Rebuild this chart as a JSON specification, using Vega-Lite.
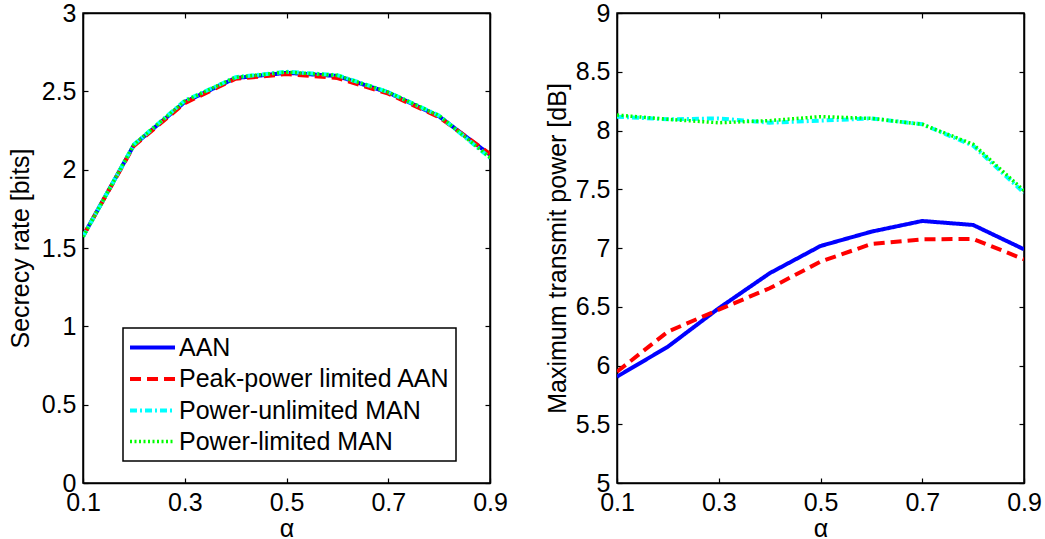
{
  "$schema": "https://vega.github.io/schema/vega-lite/v6.json",
  "background": "white",
  "padding": {"left": 7, "top": 0, "right": 0, "bottom": 0},
  "spacing": 35,
  "datasets": {
    "secrecy": [
      {"series": "AAN", "alpha": 0.1, "value": 1.575},
      {"series": "AAN", "alpha": 0.2, "value": 2.157},
      {"series": "AAN", "alpha": 0.3, "value": 2.432},
      {"series": "AAN", "alpha": 0.4, "value": 2.585},
      {"series": "AAN", "alpha": 0.5, "value": 2.618},
      {"series": "AAN", "alpha": 0.6, "value": 2.598},
      {"series": "AAN", "alpha": 0.7, "value": 2.492},
      {"series": "AAN", "alpha": 0.8, "value": 2.340},
      {"series": "AAN", "alpha": 0.9, "value": 2.095},
      {"series": "Peak-power limited AAN", "alpha": 0.1, "value": 1.575},
      {"series": "Peak-power limited AAN", "alpha": 0.2, "value": 2.152},
      {"series": "Peak-power limited AAN", "alpha": 0.3, "value": 2.425},
      {"series": "Peak-power limited AAN", "alpha": 0.4, "value": 2.580},
      {"series": "Peak-power limited AAN", "alpha": 0.5, "value": 2.610},
      {"series": "Peak-power limited AAN", "alpha": 0.6, "value": 2.585},
      {"series": "Peak-power limited AAN", "alpha": 0.7, "value": 2.485},
      {"series": "Peak-power limited AAN", "alpha": 0.8, "value": 2.335},
      {"series": "Peak-power limited AAN", "alpha": 0.9, "value": 2.100},
      {"series": "Power-unlimited MAN", "alpha": 0.1, "value": 1.572},
      {"series": "Power-unlimited MAN", "alpha": 0.2, "value": 2.160},
      {"series": "Power-unlimited MAN", "alpha": 0.3, "value": 2.440},
      {"series": "Power-unlimited MAN", "alpha": 0.4, "value": 2.590},
      {"series": "Power-unlimited MAN", "alpha": 0.5, "value": 2.625},
      {"series": "Power-unlimited MAN", "alpha": 0.6, "value": 2.603},
      {"series": "Power-unlimited MAN", "alpha": 0.7, "value": 2.495},
      {"series": "Power-unlimited MAN", "alpha": 0.8, "value": 2.345},
      {"series": "Power-unlimited MAN", "alpha": 0.9, "value": 2.075},
      {"series": "Power-limited MAN", "alpha": 0.1, "value": 1.572},
      {"series": "Power-limited MAN", "alpha": 0.2, "value": 2.160},
      {"series": "Power-limited MAN", "alpha": 0.3, "value": 2.438},
      {"series": "Power-limited MAN", "alpha": 0.4, "value": 2.590},
      {"series": "Power-limited MAN", "alpha": 0.5, "value": 2.623},
      {"series": "Power-limited MAN", "alpha": 0.6, "value": 2.602},
      {"series": "Power-limited MAN", "alpha": 0.7, "value": 2.495},
      {"series": "Power-limited MAN", "alpha": 0.8, "value": 2.345},
      {"series": "Power-limited MAN", "alpha": 0.9, "value": 2.078}
    ],
    "power": [
      {"series": "AAN", "alpha": 0.1, "value": 5.905},
      {"series": "AAN", "alpha": 0.2, "value": 6.160},
      {"series": "AAN", "alpha": 0.3, "value": 6.487},
      {"series": "AAN", "alpha": 0.4, "value": 6.785},
      {"series": "AAN", "alpha": 0.5, "value": 7.017},
      {"series": "AAN", "alpha": 0.6, "value": 7.139},
      {"series": "AAN", "alpha": 0.7, "value": 7.230},
      {"series": "AAN", "alpha": 0.8, "value": 7.196},
      {"series": "AAN", "alpha": 0.9, "value": 6.989},
      {"series": "Peak-power limited AAN", "alpha": 0.1, "value": 5.947},
      {"series": "Peak-power limited AAN", "alpha": 0.2, "value": 6.288},
      {"series": "Peak-power limited AAN", "alpha": 0.3, "value": 6.475},
      {"series": "Peak-power limited AAN", "alpha": 0.4, "value": 6.657},
      {"series": "Peak-power limited AAN", "alpha": 0.5, "value": 6.884},
      {"series": "Peak-power limited AAN", "alpha": 0.6, "value": 7.034},
      {"series": "Peak-power limited AAN", "alpha": 0.7, "value": 7.074},
      {"series": "Peak-power limited AAN", "alpha": 0.8, "value": 7.077},
      {"series": "Peak-power limited AAN", "alpha": 0.9, "value": 6.904},
      {"series": "Power-unlimited MAN", "alpha": 0.1, "value": 8.118},
      {"series": "Power-unlimited MAN", "alpha": 0.2, "value": 8.095},
      {"series": "Power-unlimited MAN", "alpha": 0.3, "value": 8.103},
      {"series": "Power-unlimited MAN", "alpha": 0.4, "value": 8.066},
      {"series": "Power-unlimited MAN", "alpha": 0.5, "value": 8.084},
      {"series": "Power-unlimited MAN", "alpha": 0.6, "value": 8.103},
      {"series": "Power-unlimited MAN", "alpha": 0.7, "value": 8.053},
      {"series": "Power-unlimited MAN", "alpha": 0.8, "value": 7.871},
      {"series": "Power-unlimited MAN", "alpha": 0.9, "value": 7.470},
      {"series": "Power-limited MAN", "alpha": 0.1, "value": 8.132},
      {"series": "Power-limited MAN", "alpha": 0.2, "value": 8.095},
      {"series": "Power-limited MAN", "alpha": 0.3, "value": 8.066},
      {"series": "Power-limited MAN", "alpha": 0.4, "value": 8.084},
      {"series": "Power-limited MAN", "alpha": 0.5, "value": 8.118},
      {"series": "Power-limited MAN", "alpha": 0.6, "value": 8.103},
      {"series": "Power-limited MAN", "alpha": 0.7, "value": 8.053},
      {"series": "Power-limited MAN", "alpha": 0.8, "value": 7.883},
      {"series": "Power-limited MAN", "alpha": 0.9, "value": 7.488}
    ]
  },
  "config": {
    "font": "Liberation Sans",
    "view": {"stroke": "black", "strokeWidth": 1.5},
    "axis": {
      "grid": false,
      "domainColor": "black",
      "domainWidth": 1.5,
      "tickColor": "black",
      "tickWidth": 1.2,
      "tickSize": -5,
      "labelFont": "Liberation Sans",
      "labelFontSize": 25,
      "labelColor": "black",
      "titleFont": "Liberation Sans",
      "titleFontSize": 25,
      "titleFontWeight": "normal",
      "titleColor": "black",
      "labelFlush": false,
      "labelOverlap": false
    },
    "legend": {
      "orient": "none",
      "legendX": 40,
      "legendY": 315,
      "symbolType": "M-2,0H2",
      "symbolSize": 506,
      "symbolOffset": 10,
      "labelFont": "Liberation Sans",
      "labelFontSize": 25,
      "labelColor": "black",
      "strokeColor": "black",
      "strokeWidth": 1.5,
      "fillColor": "white",
      "padding": 6,
      "rowPadding": 4.5,
      "labelOffset": 13,
      "labelLimit": 400
    }
  },
  "resolve": {"scale": {"color": "independent", "strokeDash": "independent", "strokeWidth": "independent"}},
  "hconcat": [
    {
      "width": 407,
      "height": 470,
      "data": {"name": "secrecy"},
      "resolve": {"axis": {"x": "independent", "y": "independent"}},
      "layer": [
        {
          "mark": {"type": "line", "strokeCap": "butt", "clip": true},
          "encoding": {
            "x": {"field": "alpha", "type": "quantitative", "scale": {"domain": [0.1, 0.9], "nice": false, "zero": false},
                  "axis": {"orient": "bottom", "values": [0.1, 0.3, 0.5, 0.7, 0.9], "format": "~g", "title": "α", "labelPadding": 12, "titleY": 53, "titleBaseline": "alphabetic"}},
            "y": {"field": "value", "type": "quantitative", "scale": {"domain": [0, 3], "nice": false, "zero": false},
                  "axis": {"orient": "left", "values": [0, 0.5, 1, 1.5, 2, 2.5, 3], "format": "~g", "title": "Secrecy rate [bits]", "labelPadding": 12, "titleX": -54.5, "titleBaseline": "alphabetic"}},
            "color": {"field": "series", "type": "nominal",
                      "scale": {"domain": ["AAN", "Peak-power limited AAN", "Power-unlimited MAN", "Power-limited MAN"], "range": ["#0000ff", "#ff0000", "#00ffff", "#00ff00"]},
                      "legend": {"title": null}},
            "strokeDash": {"field": "series", "type": "nominal",
                      "scale": {"domain": ["AAN", "Peak-power limited AAN", "Power-unlimited MAN", "Power-limited MAN"], "range": [[1, 0], [11, 6], [7, 3, 2, 3], [2, 2.5]]},
                      "legend": {"title": null}},
            "strokeWidth": {"field": "series", "type": "nominal",
                      "scale": {"type": "ordinal", "domain": ["AAN", "Peak-power limited AAN", "Power-unlimited MAN", "Power-limited MAN"], "range": [4, 4, 4, 3.5]},
                      "legend": {"title": null}}
          }
        },
        {
          "mark": {"type": "line", "opacity": 0},
          "encoding": {
            "x": {"field": "alpha", "type": "quantitative", "scale": {"domain": [0.1, 0.9], "nice": false, "zero": false},
                  "axis": {"orient": "top", "values": [0.1, 0.3, 0.5, 0.7, 0.9], "labels": false, "title": null}},
            "y": {"field": "value", "type": "quantitative", "scale": {"domain": [0, 3], "nice": false, "zero": false},
                  "axis": {"orient": "right", "values": [0, 0.5, 1, 1.5, 2, 2.5, 3], "labels": false, "title": null}}
          }
        }
      ]
    },
    {
      "width": 407,
      "height": 470,
      "data": {"name": "power"},
      "resolve": {"axis": {"x": "independent", "y": "independent"}},
      "layer": [
        {
          "mark": {"type": "line", "strokeCap": "butt", "clip": true},
          "encoding": {
            "x": {"field": "alpha", "type": "quantitative", "scale": {"domain": [0.1, 0.9], "nice": false, "zero": false},
                  "axis": {"orient": "bottom", "values": [0.1, 0.3, 0.5, 0.7, 0.9], "format": "~g", "title": "α", "labelPadding": 12, "titleY": 53, "titleBaseline": "alphabetic"}},
            "y": {"field": "value", "type": "quantitative", "scale": {"domain": [5, 9], "nice": false, "zero": false},
                  "axis": {"orient": "left", "values": [5, 5.5, 6, 6.5, 7, 7.5, 8, 8.5, 9], "format": "~g", "title": "Maximum transmit power [dB]", "labelPadding": 12, "titleX": -51.5, "titleBaseline": "alphabetic"}},
            "color": {"field": "series", "type": "nominal",
                      "scale": {"domain": ["AAN", "Peak-power limited AAN", "Power-unlimited MAN", "Power-limited MAN"], "range": ["#0000ff", "#ff0000", "#00ffff", "#00ff00"]},
                      "legend": null},
            "strokeDash": {"field": "series", "type": "nominal",
                      "scale": {"domain": ["AAN", "Peak-power limited AAN", "Power-unlimited MAN", "Power-limited MAN"], "range": [[1, 0], [11, 6], [7, 3, 2, 3], [2, 2.5]]},
                      "legend": null},
            "strokeWidth": {"field": "series", "type": "nominal",
                      "scale": {"type": "ordinal", "domain": ["AAN", "Peak-power limited AAN", "Power-unlimited MAN", "Power-limited MAN"], "range": [4, 4, 4, 3.5]},
                      "legend": null}
          }
        },
        {
          "mark": {"type": "line", "opacity": 0},
          "encoding": {
            "x": {"field": "alpha", "type": "quantitative", "scale": {"domain": [0.1, 0.9], "nice": false, "zero": false},
                  "axis": {"orient": "top", "values": [0.1, 0.3, 0.5, 0.7, 0.9], "labels": false, "title": null}},
            "y": {"field": "value", "type": "quantitative", "scale": {"domain": [5, 9], "nice": false, "zero": false},
                  "axis": {"orient": "right", "values": [5, 5.5, 6, 6.5, 7, 7.5, 8, 8.5, 9], "labels": false, "title": null}}
          }
        }
      ]
    }
  ]
}
